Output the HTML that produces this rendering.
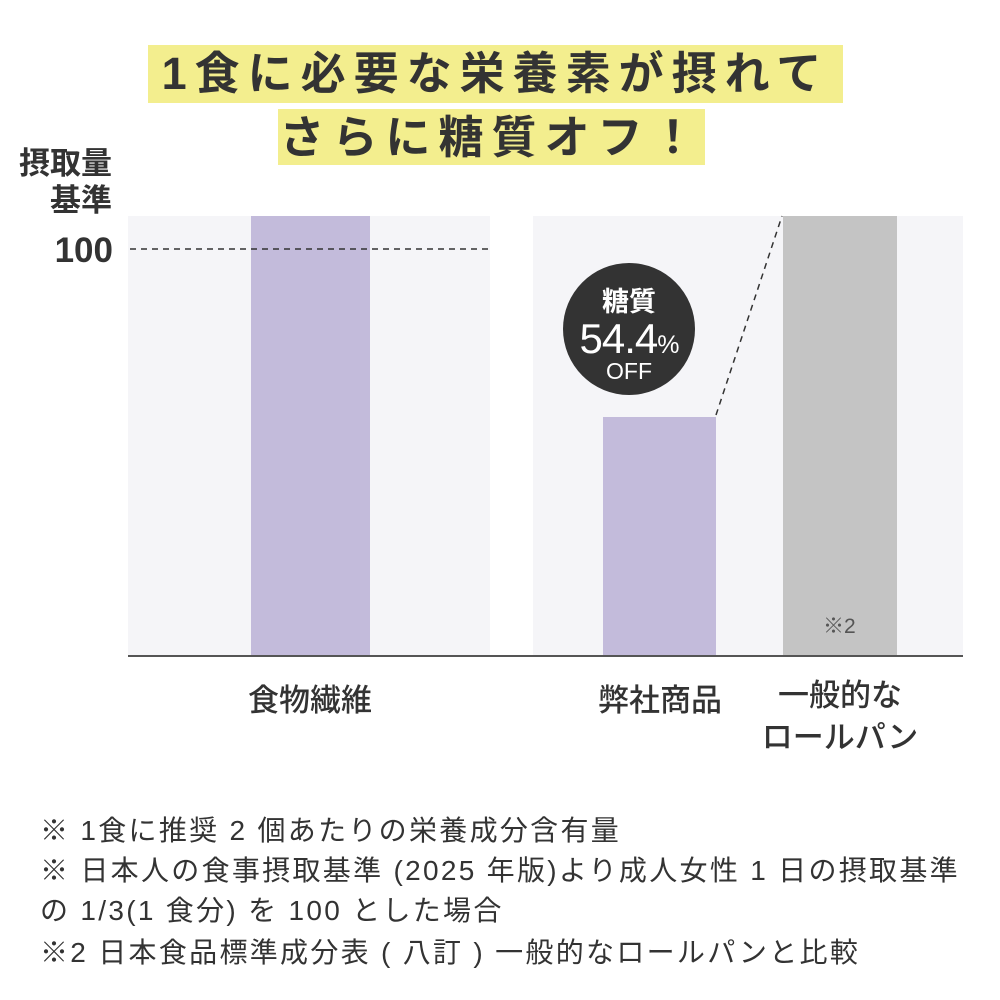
<!DOCTYPE html>
<html><head><meta charset="utf-8"><style>
body{margin:0;width:1000px;height:1000px;background:#fff;position:relative;overflow:hidden;font-family:"Liberation Sans","Noto Sans CJK JP",sans-serif;color:#333}
.a{position:absolute;white-space:nowrap}
.hl{background:#f3ee8e;font-weight:bold;font-size:45px;letter-spacing:8px;line-height:57px;text-align:center;color:#333}
.lab{font-size:31px;font-weight:500;text-align:center}
.fn{font-size:28px;left:40px;color:#333;letter-spacing:2.3px}
</style></head><body>
<div class="a hl" style="left:148px;top:45px;width:695px;height:58px">1食に必要な栄養素が摂れて</div>
<div class="a hl" style="left:278px;top:109px;width:427px;height:56px">さらに糖質オフ！</div>
<div class="a" style="left:0px;top:145px;width:112px;text-align:right;font-size:31px;font-weight:bold;line-height:37px">摂取量<br>基準</div>
<div class="a" style="left:0px;top:231px;width:113px;text-align:right;font-size:35px;font-weight:bold">100</div>
<div class="a" style="left:128px;top:216px;width:362px;height:440px;background:#f5f5f8"></div>
<div class="a" style="left:533px;top:216px;width:430px;height:440px;background:#f5f5f8"></div>
<div class="a" style="left:251px;top:216px;width:119px;height:440px;background:#c3bbdb"></div>
<div class="a" style="left:603px;top:417px;width:113px;height:239px;background:#c3bbdb"></div>
<div class="a" style="left:783px;top:216px;width:114px;height:440px;background:#c4c4c4"></div>
<div class="a" style="left:823px;top:610px;font-size:21px;color:#555">※2</div>
<svg class="a" style="left:0;top:0" width="1000" height="1000">
<line x1="130" y1="249" x2="490" y2="249" stroke="#333" stroke-width="1.5" stroke-dasharray="6,5"/>
<line x1="716" y1="415" x2="782" y2="216" stroke="#333" stroke-width="1.5" stroke-dasharray="6,5"/>
<line x1="128" y1="656" x2="963" y2="656" stroke="#555" stroke-width="2"/>
<circle cx="629" cy="329" r="66" fill="#333"/>
</svg>
<div class="a" style="left:563px;top:280px;width:132px;text-align:center;color:#fff;font-size:27px;font-weight:bold">糖質</div>
<div class="a" style="left:563px;top:315px;width:132px;text-align:center;color:#fff;font-size:42px;font-weight:500;letter-spacing:-1px">54.4<span style="font-size:25px">%</span></div>
<div class="a" style="left:563px;top:358px;width:132px;text-align:center;color:#fff;font-size:23px">OFF</div>
<div class="a lab" style="left:210px;top:675px;width:200px">食物繊維</div>
<div class="a lab" style="left:560px;top:675px;width:200px">弊社商品</div>
<div class="a lab" style="left:740px;top:675px;width:200px;line-height:42px">一般的な<br>ロールパン</div>
<div class="a fn" style="top:809px">※ 1食に推奨 2 個あたりの栄養成分含有量</div>
<div class="a fn" style="top:849px">※ 日本人の食事摂取基準 (2025 年版)より成人女性 1 日の摂取基準</div>
<div class="a fn" style="top:889px">の 1/3(1 食分) を 100 とした場合</div>
<div class="a fn" style="top:931px">※2 日本食品標準成分表 ( 八訂 ) 一般的なロールパンと比較</div>
</body></html>
